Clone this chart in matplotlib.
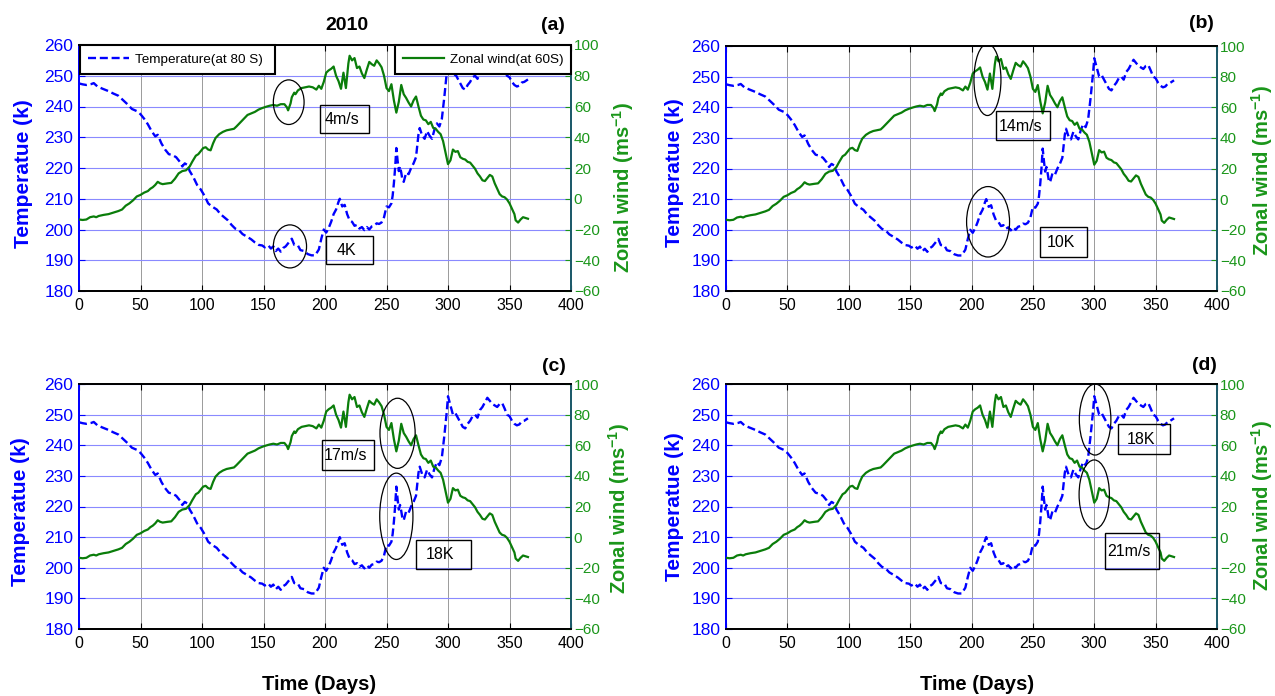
import matplotlib
matplotlib.use('Agg')
import matplotlib.pyplot as plt
from matplotlib.patches import Ellipse, Rectangle

plt.rcParams['font.family'] = ['Liberation Sans', 'DejaVu Sans']
plt.rcParams['mathtext.fontset'] = 'custom'
plt.rcParams['mathtext.rm'] = 'Liberation Sans'
plt.rcParams['mathtext.bf'] = 'Liberation Sans:bold'

# ---------------- data ----------------
temp_days = [0, 3, 6, 10, 12, 15, 19, 24, 28, 32, 36, 40, 43, 47, 50, 53, 56, 59, 62, 64,
             67, 70, 73, 76, 79, 82, 84, 86, 88, 90, 93, 96, 99, 102, 105, 108, 112, 115, 118, 121,
             124, 127, 130, 133, 136, 140, 143, 146, 149, 151, 154, 156, 158, 160, 162, 164, 166, 168, 171, 173,
             175, 178, 180, 183, 186, 189, 192, 195, 197, 199, 201, 203, 205, 207, 209, 211, 212, 214, 216, 218,
             220, 222, 224, 226, 228, 230, 232, 234, 236, 238, 240, 242, 244, 246, 248, 250, 252, 254, 255, 256,
             257, 258, 259, 260, 261, 262, 263, 264, 266, 268, 270, 272, 274, 276, 277, 279, 281, 283, 285, 287,
             289, 291, 293, 295, 297, 299, 300, 302, 304, 306, 308, 310, 312, 314, 316, 318, 320, 322, 324, 326,
             328, 330, 332, 334, 336, 338, 340, 342, 344, 346, 348, 350, 352, 354, 356, 358, 360, 362, 365]
temp_80S = [247.5, 247.2, 247.0, 247.3, 247.6, 246.5, 245.8, 245.0, 244.2, 243.5, 242.0, 240.5, 239.2, 238.5, 237.5, 236.0, 234.2, 232.0, 230.3, 230.8,
            228.0, 226.0, 224.5, 224.2, 223.5, 222.0, 220.5, 221.5, 221.0, 219.0, 217.0, 214.5, 213.0, 211.0, 208.5, 207.5, 206.5, 205.0, 204.0, 203.0,
            201.5, 200.3, 199.8, 198.5, 197.8, 196.8, 195.8, 195.0, 194.8, 194.2, 194.8, 193.8, 194.5, 193.0, 193.8, 192.8, 194.0, 194.5, 196.0, 197.0,
            195.0, 194.8, 193.3, 193.0, 192.0, 191.6, 191.6, 193.5, 197.0, 200.0, 199.0, 200.5, 202.5, 205.0, 206.5, 209.0, 210.0, 207.5, 208.0, 205.0,
            203.0, 202.5, 201.2, 201.5, 200.3, 200.8, 199.8, 200.8, 200.0, 201.0, 201.2, 202.0, 201.8, 202.3, 204.0, 207.5, 207.2, 208.5, 211.0, 215.0,
            220.0, 226.5, 222.5, 219.0, 220.5, 218.5, 216.0, 215.5, 218.5, 218.0, 220.0, 221.5, 223.5, 231.0, 233.0, 230.5, 229.5, 232.0, 230.5, 229.5,
            232.5, 234.5, 233.5, 236.0, 243.0, 251.0, 256.0, 253.0, 250.0, 250.5, 249.0, 247.5, 246.0, 245.5, 247.0, 248.0, 249.5, 250.0, 249.0, 251.5,
            252.5, 254.0, 255.5, 254.5, 253.5, 253.0, 252.5, 253.5, 253.8, 252.0, 250.0, 249.5, 248.0, 247.0, 246.5, 246.8, 247.8, 248.0, 248.8]

wind_days = [0, 3, 6, 9, 12, 14, 16, 20, 24, 28, 32, 35, 38, 41, 44, 47, 50, 53, 56, 58,
             60, 62, 64, 66, 68, 72, 75, 78, 81, 84, 87, 90, 92, 95, 97, 99, 101, 103, 105, 107,
             109, 111, 114, 117, 120, 123, 126, 128, 131, 134, 137, 140, 143, 146, 149, 152, 155, 158, 161, 164,
             167, 169, 170, 172, 173, 175, 176, 178, 181, 184, 187, 190, 193, 195, 197, 199, 201, 203, 205, 207,
             209, 211, 213, 215, 217, 219, 220, 222, 224, 226, 228, 230, 232, 234, 236, 238, 240, 242, 244, 246,
             248, 250, 252, 254, 256, 258, 260, 262, 264, 266, 268, 270, 272, 274, 276, 278, 280, 282, 284, 286,
             288, 290, 292, 294, 296, 298, 300, 302, 304, 306, 308, 310, 312, 314, 316, 318, 320, 322, 324, 326,
             328, 330, 332, 334, 336, 338, 340, 342, 344, 346, 348, 350, 352, 354, 355, 357, 359, 361, 363, 365]
wind_60S = [-13.5, -13.8, -13.5, -12.0, -11.5, -12.0, -11.2, -10.5, -10.0, -9.0, -8.0, -7.0, -4.5, -3.0, -1.0, 1.5, 2.5, 4.0, 5.0, 6.5,
            7.5, 9.0, 11.0, 10.0, 9.5, 10.0, 10.3, 13.0, 16.5, 18.0, 18.5, 21.0, 24.0, 28.0, 29.0, 31.0, 33.0, 33.5, 32.0, 31.5,
            36.0, 39.5, 42.0, 43.5, 44.5, 45.0, 45.5, 47.0, 49.5, 52.0, 54.5, 55.5, 56.5, 58.0, 59.0, 59.8, 60.5, 61.0, 60.5, 61.5,
            61.5, 59.5, 57.5, 62.0, 66.0, 69.0, 68.0, 70.5, 72.0, 72.5, 73.0, 72.5, 71.0, 73.5, 71.5, 76.0, 82.0, 83.5, 84.5, 86.0,
            80.0, 76.5, 71.5, 82.0, 72.0, 88.0, 93.0, 90.0, 91.5, 85.0, 86.0, 81.5, 78.5, 84.0, 89.0, 87.5, 86.5, 90.0, 88.0, 85.5,
            80.0, 72.0, 70.0, 74.5, 64.0, 56.0, 63.0, 74.0, 68.0, 65.5, 62.5, 60.0, 64.0, 66.5, 60.0, 54.0, 51.5, 51.0, 48.5, 50.0,
            46.0, 45.5, 43.5, 42.0, 37.5, 30.0, 22.5, 25.0, 32.0, 30.5, 31.0, 27.0, 26.0, 25.5, 24.0, 23.5, 21.5, 19.5, 16.5, 14.5,
            12.0, 11.5, 13.5, 15.5, 14.5, 10.0, 6.5, 3.0, 1.5, 1.0, -0.5, -3.0, -6.5, -10.0, -14.0, -15.5, -13.5, -12.0, -12.5, -13.0]

panel_labels = ['(a)', '(b)', '(c)', '(d)']
x_ticks = [0, 50, 100, 150, 200, 250, 300, 350, 400]
temp_ticks = [180, 190, 200, 210, 220, 230, 240, 250, 260]
wind_ticks = [-60, -40, -20, 0, 20, 40, 60, 80, 100]
legend_labels = ['Temperature(at 80 S)', 'Zonal wind(at 60S)']

# annotation layout per panel (in temperature-axis data coordinates)
ellipses = [
    [(170.5, 241.4, 25, 14.5), (171.5, 194.5, 27, 14)],
    [(213, 249.0, 22, 23.4), (213.5, 202.6, 35, 23)],
    [(259, 243.9, 28.6, 22.9), (258, 216.8, 27, 28.2)],
    [(300.7, 248.4, 25.7, 23.2), (300, 223.9, 24.7, 22.6)],
]
boxes = [
    [(196, 231.5, 40, 8.9, '4m/s'), (200.5, 188.7, 38.2, 9.1, '4K')],
    [(220, 229.2, 43.7, 9.6, '14m/s'), (255.4, 191.2, 39, 9.7, '10K')],
    [(197.5, 231.9, 42.2, 9.8, '17m/s'), (273.9, 199.6, 44.4, 9.6, '18K')],
    [(319, 237.1, 43, 9.9, '18K'), (308.7, 199.5, 44.2, 12.0, '21m/s')],
]

# ---------------- figure ----------------
W, H = 1275, 696
fig = plt.figure(figsize=(W / 100, H / 100), dpi=100)

rects = [(79, 45, 571, 291), (726, 46, 1217, 291), (79, 384, 571, 629), (726, 384, 1217, 629)]
label_pos = [(553, 25), (1201, 23), (554, 367), (1204, 366)]
left_lab = [(24, 174), (674, 173), (21, 512), (674, 507)]
right_lab = [(623, 187), (1262, 170), (619, 508), (1262, 505)]

BLUE = '#0000ff'
GREEN_LINE = '#0a7d0a'
GREEN_TXT = '#1a961a'

for i, (l, t, r, b) in enumerate(rects):
    ax = fig.add_axes([l / W, 1 - b / H, (r - l) / W, (b - t) / H])
    ax2 = ax.twinx()
    lt, = ax.plot(temp_days, temp_80S, color=BLUE, lw=1.7, ls=(0, (3.4, 1.6)), zorder=3)
    lw_, = ax2.plot(wind_days, wind_60S, color=GREEN_LINE, lw=1.6, zorder=3)

    ax.set_xticks(x_ticks)
    ax.set_yticks(temp_ticks)
    ax2.set_yticks(wind_ticks)
    ax.grid(axis='x', color='#9a9a9a', lw=0.7)
    ax.grid(axis='y', color='#8a8aff', lw=0.8)
    ax.set_axisbelow(True)

    ax.tick_params(axis='x', direction='in', length=4, top=True, colors='black',
                   labelsize=11.5, pad=5)
    ax.tick_params(axis='y', direction='in', length=4, colors=BLUE, labelsize=12.5, pad=4)
    ax2.tick_params(axis='y', direction='in', length=4, colors=GREEN_TXT, labelsize=11, pad=2)

    ax.spines['left'].set_color(BLUE)
    ax2.spines['left'].set_color(BLUE)
    ax2.spines['right'].set_color('#1c5a6a')
    ax.spines['right'].set_color('#1c5a6a')
    for sp in ('top', 'bottom'):
        ax.spines[sp].set_color('black')
        ax2.spines[sp].set_color('black')
    for sp in ax.spines.values():
        sp.set_linewidth(1.3)
    for sp in ax2.spines.values():
        sp.set_linewidth(1.3)

    for (cx, cy, w, h) in ellipses[i]:
        ax2.add_patch(Ellipse((cx, cy), w, h, transform=ax.transData, fill=False,
                              edgecolor='black', lw=0.9, zorder=5))
    for (x0, y0, w, h, txt) in boxes[i]:
        ax2.add_patch(Rectangle((x0, y0), w, h, transform=ax.transData, fill=False,
                                edgecolor='black', lw=1.0, zorder=5))
        ax2.text(x0 + w * 0.45, y0 + h * 0.48, txt, transform=ax.transData, ha='center',
                 va='center', fontsize=11.5, zorder=6)

    ax.set_xlim(0, 400)
    ax.set_ylim(180, 260)
    ax2.set_ylim(-60, 100)

    if i == 0:
        leg1 = ax2.legend([lt], [legend_labels[0]], loc='upper left',
                          bbox_to_anchor=(0.002, 0.0, 0.396, 1.0), mode='expand',
                          borderaxespad=0, fancybox=False, edgecolor='black', framealpha=1,
                          handlelength=3.0, handletextpad=0.45, borderpad=0.62,
                          fontsize=9.7)
        leg1.get_frame().set_linewidth(1.5)
        ax2.add_artist(leg1)
        leg2 = ax2.legend([lw_], [legend_labels[1]], loc='upper left',
                          bbox_to_anchor=(0.642, 0.0, 0.358, 1.0), mode='expand',
                          borderaxespad=0, fancybox=False, edgecolor='black', framealpha=1,
                          handlelength=3.0, handletextpad=0.45, borderpad=0.62,
                          fontsize=9.7)
        leg2.get_frame().set_linewidth(1.5)

    px, py = label_pos[i]
    fig.text(px / W, 1 - py / H, panel_labels[i], ha='center', va='center',
             fontsize=14, fontweight='bold')
    x, y = left_lab[i]
    fig.text(x / W, 1 - y / H, 'Temperatue (k)', rotation=90, ha='center', va='center',
             fontsize=15, fontweight='bold', color=BLUE)
    x, y = right_lab[i]
    fig.text(x / W, 1 - y / H, r'Zonal wind (ms$^{\mathbf{-1}}$)', rotation=90, ha='center',
             va='center', fontsize=14.5, fontweight='bold', color=GREEN_TXT)

fig.text(347 / W, 1 - 25 / H, '2010', ha='center', va='center', fontsize=14, fontweight='bold')
fig.text(319 / W, 1 - 685 / H, 'Time (Days)', ha='center', va='center', fontsize=14.5,
         fontweight='bold')
fig.text(977 / W, 1 - 685 / H, 'Time (Days)', ha='center', va='center', fontsize=14.5,
         fontweight='bold')

fig.savefig('out.png', dpi=100)
